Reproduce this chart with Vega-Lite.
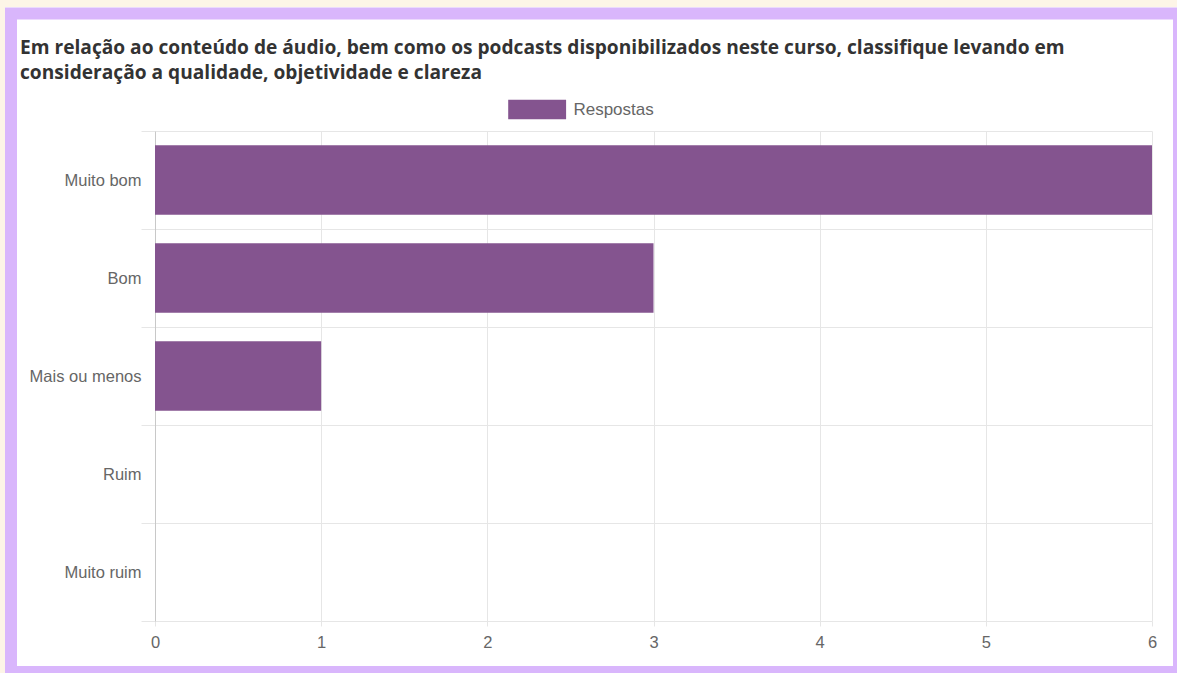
{
  "$schema": "https://vega.github.io/schema/vega-lite/v6.json",
  "width": 997,
  "height": 490,
  "autosize": {"type": "none"},
  "padding": {"left": 155, "top": 131, "right": 25, "bottom": 52},
  "background": "#ffffff",
  "config": {
    "view": {"stroke": null},
    "font": "Liberation Sans"
  },
  "title": {
    "text": [
      "Em relação ao conteúdo de áudio, bem como os podcasts disponibilizados neste curso, classifique levando em",
      "consideração a qualidade, objetividade e clareza"
    ],
    "anchor": "start",
    "frame": "group",
    "font": "Open Sans",
    "fontSize": 19.15,
    "fontWeight": "bold",
    "color": "#333333",
    "lineHeight": 25,
    "baseline": "top",
    "dx": -135,
    "offset": 0,
    "dy": 88
  },
  "data": {
    "values": [
      {"categoria": "Muito bom", "respostas": 6},
      {"categoria": "Bom", "respostas": 3},
      {"categoria": "Mais ou menos", "respostas": 1},
      {"categoria": "Ruim", "respostas": 0},
      {"categoria": "Muito ruim", "respostas": 0}
    ]
  },
  "resolve": {"scale": {"x": "independent", "y": "independent"}},
  "layer": [
    {
      "data": {"values": [{}]},
      "mark": {"type": "rect", "fill": "transparent", "stroke": "#fdf5e7", "strokeWidth": 12},
      "encoding": {
        "x": {"datum": -0.15647, "type": "quantitative", "scale": {"domain": [0, 1], "nice": false, "zero": false}, "axis": null},
        "x2": {"datum": 1.04313},
        "y": {"datum": 1.26531, "type": "quantitative", "scale": {"domain": [0, 1], "nice": false, "zero": false}, "axis": null},
        "y2": {"datum": -0.14082}
      }
    },
    {
      "data": {"values": [{}]},
      "mark": {"type": "rect", "fill": "transparent", "stroke": "#d9b6fc", "strokeWidth": 12},
      "encoding": {
        "x": {"datum": -0.14443, "type": "quantitative", "scale": {"domain": [0, 1], "nice": false, "zero": false}, "axis": null},
        "x2": {"datum": 1.02708},
        "y": {"datum": 1.2398, "type": "quantitative", "scale": {"domain": [0, 1], "nice": false, "zero": false}, "axis": null},
        "y2": {"datum": -0.10408}
      }
    },
    {
      "mark": {"type": "bar", "height": {"band": 0.71}},
      "encoding": {
        "y": {
          "field": "categoria",
          "type": "nominal",
          "sort": null,
          "scale": {"paddingInner": 0, "paddingOuter": 0},
          "axis": {
            "title": null,
            "tickBand": "extent",
            "grid": true,
            "gridColor": "#e6e6e6",
            "ticks": true,
            "tickSize": 14,
            "tickColor": "#e6e6e6",
            "domain": true,
            "domainColor": "#c8c8c8",
            "labelPadding": 0,
            "labelFontSize": 16.5,
            "labelColor": "#666666",
            "labelFont": "Liberation Sans"
          }
        },
        "x": {
          "field": "respostas",
          "type": "quantitative",
          "scale": {"domain": [0, 6], "nice": false},
          "axis": {
            "title": null,
            "values": [0, 1, 2, 3, 4, 5, 6],
            "format": "d",
            "grid": true,
            "gridColor": "#e6e6e6",
            "ticks": true,
            "tickSize": 5,
            "tickColor": "#e6e6e6",
            "domain": false,
            "labelFlush": false,
            "labelPadding": 8,
            "labelFontSize": 16.5,
            "labelColor": "#666666",
            "labelFont": "Liberation Sans"
          }
        },
        "color": {
          "datum": "Respostas",
          "type": "nominal",
          "scale": {"range": ["#84548f"]},
          "legend": {
            "title": null,
            "orient": "none",
            "legendX": 353,
            "legendY": -41,
            "symbolType": "M-1,-0.5H2V0.5H-1Z",
            "symbolSize": 1490,
            "symbolStrokeWidth": 0,
            "symbolOpacity": 1,
            "labelOffset": 26.4,
            "labelFontSize": 17,
            "labelColor": "#666666",
            "labelFont": "Liberation Sans"
          }
        }
      }
    }
  ]
}
